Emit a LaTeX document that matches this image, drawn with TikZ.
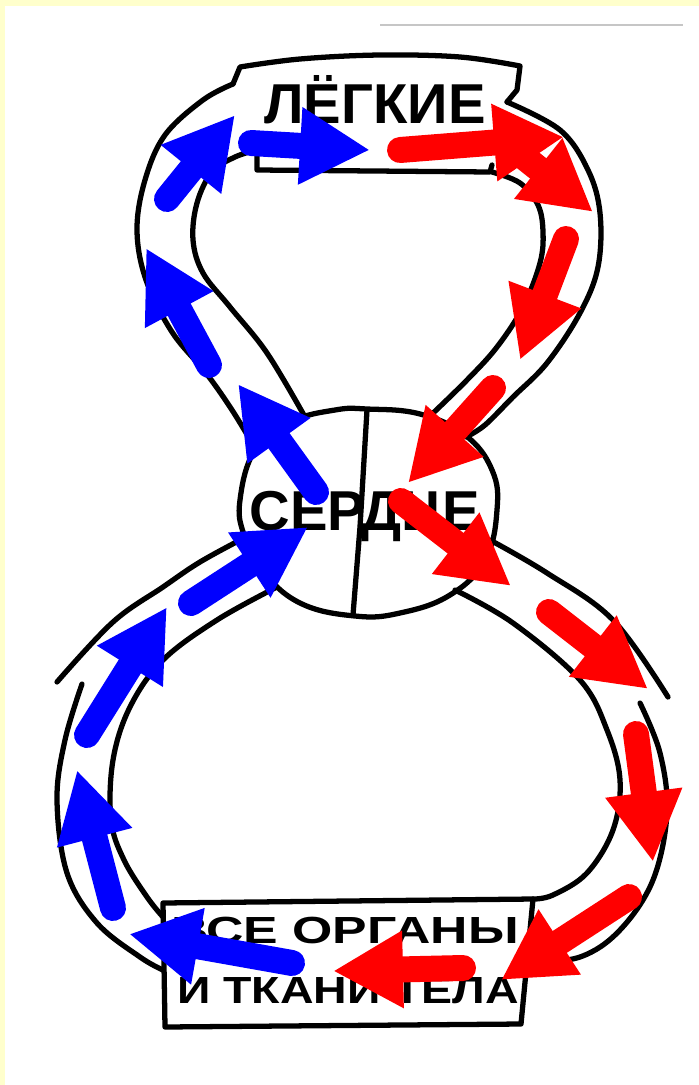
\documentclass[tikz,border=0pt]{standalone}
\usepackage{fontspec}
\setmainfont{Liberation Sans}
\usetikzlibrary{arrows.meta}
\definecolor{paleyellow}{HTML}{FFFFCC}
\definecolor{venblue}{HTML}{0000FF}
\definecolor{artred}{HTML}{FF0000}

\begin{document}
\begin{tikzpicture}[x=0.02cm, y=-0.02cm,
    wall/.style={line width=3pt, line cap=round, line join=round},
    venflow/.style={venblue, line width=0.52cm, line cap=round, -{Triangle[length=1.4cm, width=1.45cm]}},
    artflow/.style={artred, line width=0.52cm, line cap=round, -{Triangle[length=1.4cm, width=1.45cm]}},
    organtext/.style={inner sep=0pt, anchor=base}]
    % Page
    \useasboundingbox (0,0) rectangle (699,1085);
    \fill[paleyellow] (0,0) rectangle (699,1085);
    \fill[white] (5,6) rectangle (699,1085);
    \draw[gray!45, line width=1.5pt] (380,25) -- (683,25);

    % Lung box
    \draw[wall] (233,84) -- plot[smooth, tension=0.6] coordinates {(240,67) (300,59) (380,55) (460,57) (520,66)} -- (517,90) -- (507,102);
    \draw[wall] (257,137) -- (257,170) -- (490,172) -- (492,165);
    \node[organtext, font=\bfseries\fontsize{32}{32}\selectfont] (lungs) at (375,123) {ЛЁГКИЕ};

    % Pulmonary loop
    \draw[wall] plot[smooth, tension=0.6] coordinates {(233,84) (203,100) (165,135) (145,180) (137,230) (146,280) (172,332) (206,373) (232,410) (255,448)};
    \draw[wall] plot[smooth, tension=0.6] coordinates {(257,150) (235,157) (212,172) (197,203) (193,240) (203,273) (230,307) (267,353) (305,417)};
    \draw[wall] plot[smooth, tension=0.6] coordinates {(507,102) (560,130) (588,170) (600,213) (598,267) (580,313) (547,363) (513,397) (485,425) (466,437)};
    \draw[wall] plot[smooth, tension=0.6] coordinates {(492,172) (520,183) (538,205) (543,232) (540,263) (523,307) (497,347) (467,380) (430,416)};

    % Heart
    \draw[wall] plot[smooth cycle, tension=0.7] coordinates {(240,500) (255,450) (290,422) (335,410) (367,409) (420,414) (465,435) (492,470) (497,510) (485,560) (450,595) (400,613) (355,616) (300,603) (262,570) (244,535)};
    \draw[wall] (367,410) -- (360,527) -- (353,615);
    \node[organtext, font=\bfseries\fontsize{32}{32}\selectfont] (heart) at (365,530) {СЕРДЦЕ};

    % Systemic loop
    \draw[wall] plot[smooth, tension=0.6] coordinates {(244,538) (200,562) (163,587) (113,622) (57,682)};
    \draw[wall] plot[smooth, tension=0.6] coordinates {(82,684) (65,740) (57,800) (67,873) (97,923) (140,957) (163,970)};
    \draw[wall] plot[smooth, tension=0.6] coordinates {(275,588) (217,620) (163,660) (130,707) (113,760) (111,820) (124,860) (147,897) (163,917)};
    \draw[wall] plot[smooth, tension=0.6] coordinates {(490,540) (547,573) (613,620) (668,697)};
    \draw[wall] plot[smooth, tension=0.6] coordinates {(640,703) (660,753) (667,813) (653,880) (620,930) (580,957) (527,963)};
    \draw[wall] plot[smooth, tension=0.6] coordinates {(455,590) (513,623) (580,680) (607,730) (620,780) (613,830) (587,873) (553,895) (533,899)};

    % Organs box
    \draw[wall] (163,903) -- (533,899) -- (521,1024) -- (165,1027) -- cycle;
    \node[organtext, font=\bfseries\fontsize{21.5}{21.5}\selectfont] (organs) at (345,943) {\scalebox{1.37}[1]{ВСЕ ОРГАНЫ}};
    \node[organtext, font=\bfseries\fontsize{21.5}{21.5}\selectfont] (tissues) at (348,1003) {\scalebox{1.23}[1]{И ТКАНИ ТЕЛА}};

    % Venous blood
    \foreach \sx/\sy/\tx/\ty in {292/963/129/934, 113/908/77/770, 87/735/167/607, 191/603/308/527,
                                 316/492/238/384, 209/365/146/248, 167/199/235/115, 251/143/370/150}
        \draw[venflow] (\sx,\sy) -- (\tx,\ty);

    % Arterial blood
    \foreach \sx/\sy/\tx/\ty in {505/142/593/212, 400/150/564/137, 566/239/520/360, 493/388/408/483,
                                 401/501/511/586, 549/612/648/689, 636/734/653/862, 629/897/501/980,
                                 463/968/333/971}
        \draw[artflow] (\sx,\sy) -- (\tx,\ty);
\end{tikzpicture}
\end{document}
